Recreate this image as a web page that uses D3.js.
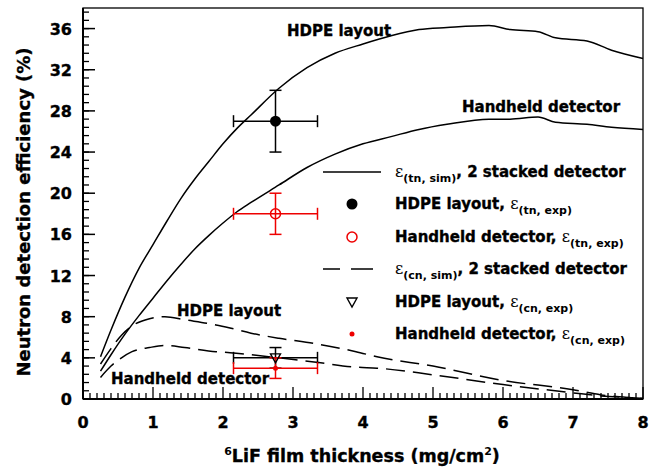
<!DOCTYPE html>
<html>
<head>
<meta charset="utf-8">
<script src="https://cdn.jsdelivr.net/npm/d3@7"></script>
<style>
  body { margin: 0; background: #fff; }
  text { font-family: "DejaVu Sans", sans-serif; font-weight: bold; stroke: #000; stroke-width: 0.35px; }
  tspan.sub { stroke-width: 0; }
</style>
</head>
<body>
<div id="chart"></div>
<script>
// simulated curves (x = 6LiF thickness in mg/cm2, y = efficiency in %)
var tnX = [0.25, 0.4, 0.6, 0.8, 1.0, 1.2, 1.4, 1.6, 1.8, 2.0, 2.2, 2.4, 2.8, 3.2, 3.6, 4.0, 4.4, 4.8, 5.2, 5.8, 6.1, 6.5, 6.75, 7.2, 7.55, 8.0];
var tnHdpe = [4.1, 6.7, 9.9, 12.7, 15.0, 17.3, 19.5, 21.4, 23.1, 24.8, 26.3, 27.6, 30.2, 32.2, 33.6, 34.5, 35.3, 35.9, 36.1, 36.3, 35.9, 35.7, 35.1, 34.8, 33.9, 33.1];
var tnHand = [2.7, 4.3, 6.3, 8.1, 9.8, 11.5, 13.1, 14.6, 15.9, 17.1, 18.2, 19.1, 20.8, 22.5, 23.8, 24.8, 25.5, 26.2, 26.7, 27.2, 27.2, 27.4, 26.9, 26.7, 26.4, 26.2];

var cnX = [0.25, 0.4, 0.55, 0.7, 0.95, 1.17, 1.45, 1.9, 2.1, 2.4, 2.8, 3.3, 3.9, 4.2, 5.0, 6.0, 7.0, 7.4, 7.9, 8.0];
var cnHdpe = [3.4, 4.9, 6.2, 7.1, 7.8, 8.0, 7.7, 7.2, 6.9, 6.4, 5.9, 5.4, 4.6, 4.1, 3.2, 1.8, 0.9, 0.4, 0.1, 0.05];
var cnHand = [2.1, 3.2, 4.0, 4.6, 5.0, 5.2, 5.0, 4.6, 4.5, 4.3, 4.0, 3.6, 3.1, 3.0, 2.35, 1.4, 0.6, 0.3, 0.1, 0.05];

// measured points: [x, y, xerr, yerr]
var ptTnHdpe = [2.75, 27, 0.6, 3];
var ptTnHand = [2.75, 18, 0.6, 2];
var ptCnHdpe = [2.75, 4, 0.6, 1];
var ptCnHand = [2.75, 3, 0.6, 1];

var xTicks = [0, 1, 2, 3, 4, 5, 6, 7, 8];
var yTicks = [0, 4, 8, 12, 16, 20, 24, 28, 32, 36];

var W = 662, H = 471;
var margin = {top: 8, right: 19, bottom: 72, left: 83};
var width = W - margin.left - margin.right,
    height = H - margin.top - margin.bottom;

var svg = d3.select("#chart").append("svg")
  .attr("width", W).attr("height", H);
var g = svg.append("g")
  .attr("transform", "translate(" + margin.left + "," + margin.top + ")");

var x = d3.scaleLinear().domain([0, 8]).range([0, width]);
var y = d3.scaleLinear().domain([0, 38]).range([height, 0]);

// minor ticks
var xMinor = d3.range(0, 81).map(d => d / 10);
var yMinor = d3.range(0, 48).map(d => d * 0.8);

g.append("g").selectAll("line").data(xMinor).join("line")
  .attr("x1", d => x(d)).attr("x2", d => x(d))
  .attr("y1", height).attr("y2", d => height - (Math.abs(d - Math.round(d)) < 1e-6 ? 12 : 6))
  .attr("stroke", "#000").attr("stroke-width", 1.3);
g.append("g").selectAll("line").data(yMinor).join("line")
  .attr("y1", d => y(d)).attr("y2", d => y(d))
  .attr("x1", 0).attr("x2", 6)
  .attr("stroke", "#000").attr("stroke-width", 1.3);
g.append("g").selectAll("line").data(yTicks).join("line")
  .attr("y1", d => y(d)).attr("y2", d => y(d))
  .attr("x1", 0).attr("x2", 12)
  .attr("stroke", "#000").attr("stroke-width", 1.5);

// tick labels
g.append("g").selectAll("text").data(xTicks).join("text")
  .attr("x", d => x(d)).attr("y", height + 29)
  .attr("text-anchor", "middle").attr("font-size", 16)
  .text(d => d);
g.append("g").selectAll("text").data(yTicks).join("text")
  .attr("x", -11).attr("y", d => y(d) + 6)
  .attr("text-anchor", "end").attr("font-size", 16)
  .text(d => d);

// frame
g.append("rect").attr("width", width).attr("height", height)
  .attr("fill", "none").attr("stroke", "#000").attr("stroke-width", 1.3);
g.append("line").attr("x1", 0).attr("x2", width).attr("y1", height).attr("y2", height)
  .attr("stroke", "#000").attr("stroke-width", 2);
g.append("line").attr("x1", 0).attr("x2", 0).attr("y1", 0).attr("y2", height)
  .attr("stroke", "#000").attr("stroke-width", 2);

// curves
var line = d3.line().x(d => x(d[0])).y(d => y(d[1])).curve(d3.curveMonotoneX);
function curve(xs, ys, dash) {
  g.append("path")
    .datum(xs.map((v, i) => [v, ys[i]]))
    .attr("d", line)
    .attr("fill", "none").attr("stroke", "#000").attr("stroke-width", 1.5)
    .attr("stroke-dasharray", dash);
}
curve(tnX, tnHdpe, null);
curve(tnX, tnHand, null);
curve(cnX, cnHdpe, "19,8");
curve(cnX, cnHand, "19,8");

// error bars
function errbar(p, color) {
  var cx = x(p[0]), cy = y(p[1]);
  var e = g.append("g").attr("stroke", color).attr("stroke-width", 1.5);
  e.append("line").attr("x1", x(p[0] - p[2])).attr("x2", x(p[0] + p[2])).attr("y1", cy).attr("y2", cy);
  e.append("line").attr("x1", cx).attr("x2", cx).attr("y1", y(p[1] - p[3])).attr("y2", y(p[1] + p[3]));
  [p[0] - p[2], p[0] + p[2]].forEach(v => e.append("line")
    .attr("x1", x(v)).attr("x2", x(v)).attr("y1", cy - 6).attr("y2", cy + 6));
  [p[1] - p[3], p[1] + p[3]].forEach(v => e.append("line")
    .attr("x1", cx - 6).attr("x2", cx + 6).attr("y1", y(v)).attr("y2", y(v)));
}
errbar(ptTnHdpe, "#000");
errbar(ptTnHand, "#e00");
errbar(ptCnHdpe, "#000");
errbar(ptCnHand, "#e00");

// markers
function marker(sel, type, cx, cy) {
  if (type == "dot") sel.append("circle").attr("cx", cx).attr("cy", cy).attr("r", 5.5).attr("fill", "#000");
  if (type == "ring") sel.append("circle").attr("cx", cx).attr("cy", cy).attr("r", 5).attr("fill", "none").attr("stroke", "#e00").attr("stroke-width", 1.5);
  if (type == "tri") sel.append("path").attr("d", "M" + (cx - 5) + "," + (cy - 4) + "L" + (cx + 5) + "," + (cy - 4) + "L" + cx + "," + (cy + 5) + "Z").attr("fill", "none").attr("stroke", "#000").attr("stroke-width", 1.4);
  if (type == "small") sel.append("circle").attr("cx", cx).attr("cy", cy).attr("r", 2.5).attr("fill", "#e00");
}
marker(g, "dot", x(ptTnHdpe[0]), y(ptTnHdpe[1]));
marker(g, "ring", x(ptTnHand[0]), y(ptTnHand[1]));
marker(g, "tri", x(ptCnHdpe[0]), y(ptCnHdpe[1]));
marker(g, "small", x(ptCnHand[0]), y(ptCnHand[1]));

// curve annotations
var notes = [
  {t: "HDPE layout", x: 287, y: 36},
  {t: "Handheld detector", x: 462, y: 112},
  {t: "HDPE layout", x: 177, y: 316},
  {t: "Handheld detector", x: 111, y: 384}
];
svg.append("g").selectAll("text").data(notes).join("text")
  .attr("x", d => d.x).attr("y", d => d.y).attr("font-size", 15)
  .text(d => d.t);

// legend
var legend = [
  {type: "solid", sub: "(tn, sim)", pre: "", post: ", 2 stacked detector"},
  {type: "dot", sub: "(tn, exp)", pre: "HDPE layout, ", post: ""},
  {type: "ring", sub: "(tn, exp)", pre: "Handheld detector, ", post: ""},
  {type: "dash", sub: "(cn, sim)", pre: "", post: ", 2 stacked detector"},
  {type: "tri", sub: "(cn, exp)", pre: "HDPE layout, ", post: ""},
  {type: "small", sub: "(cn, exp)", pre: "Handheld detector, ", post: ""}
];
var legY = [172, 204, 237, 269, 302, 334];
var lg = svg.append("g");
legend.forEach(function(d, i) {
  var yy = legY[i];
  if (d.type == "solid" || d.type == "dash") {
    lg.append("line").attr("x1", 323).attr("x2", 381).attr("y1", yy).attr("y2", yy)
      .attr("stroke", "#000").attr("stroke-width", 1.5)
      .attr("stroke-dasharray", d.type == "dash" ? "17,11,22" : null);
  } else {
    marker(lg, d.type, 352, yy);
  }
  var t = lg.append("text").attr("x", 395).attr("y", yy + 5).attr("font-size", 15);
  t.append("tspan").text(d.pre);
  t.append("tspan").attr("class", "sub").attr("font-weight", "normal").attr("font-family", "DejaVu Serif, serif").attr("font-size", 16).text("ε");
  t.append("tspan").attr("class", "sub").attr("font-size", 11).attr("dy", 5).text(d.sub);
  t.append("tspan").attr("dy", -5).text(d.post);
});

// axis titles
svg.append("text")
  .attr("transform", "translate(30,212) rotate(-90)")
  .attr("text-anchor", "middle").attr("font-size", 18)
  .text("Neutron detection efficiency (%)");
var xt = svg.append("text").attr("x", 362).attr("y", 462)
  .attr("text-anchor", "middle").attr("font-size", 17.5);
xt.append("tspan").attr("class", "sub").attr("font-size", 11).attr("dy", -7).text("6");
xt.append("tspan").attr("dy", 7).text("LiF film thickness (mg/cm");
xt.append("tspan").attr("class", "sub").attr("font-size", 11).attr("dy", -7).text("2");
xt.append("tspan").attr("dy", 7).text(")");
</script>
</body>
</html>
